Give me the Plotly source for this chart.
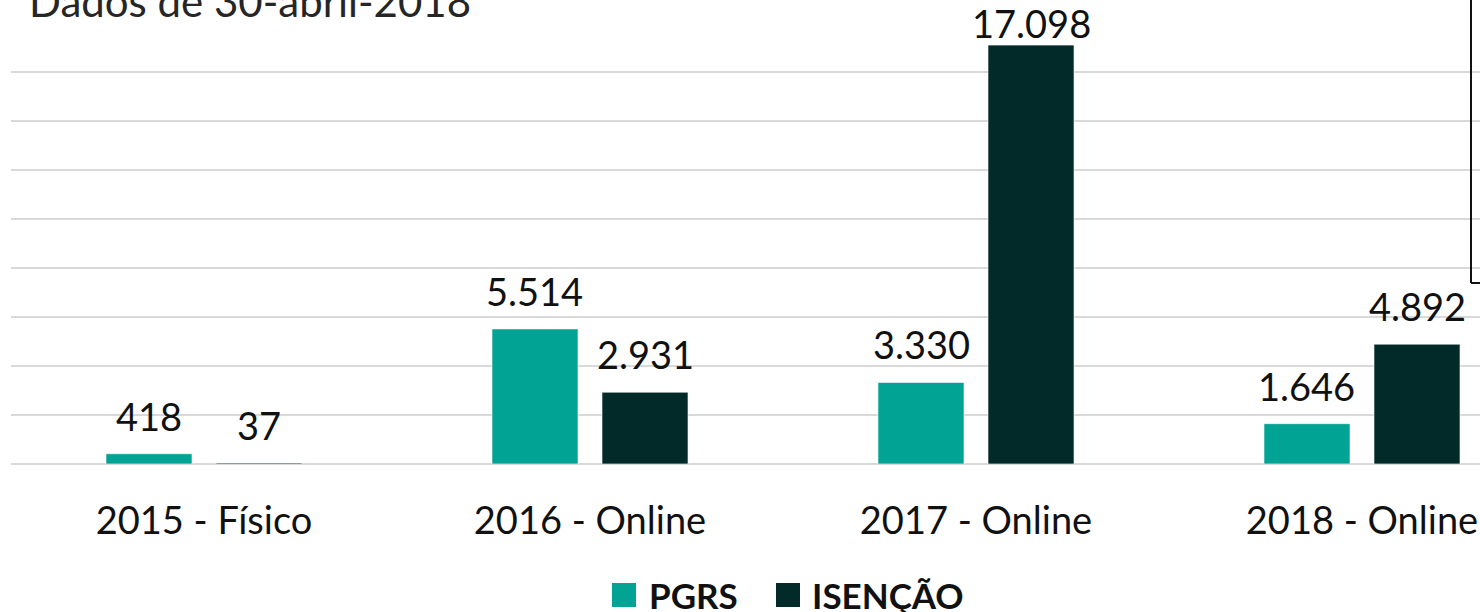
import plotly.graph_objects as go

# Registos por ano e canal de submissão
categorias = ["2015 - Físico", "2016 - Online", "2017 - Online", "2018 - Online"]
pgrs = [418, 5514, 3330, 1646]
isencao = [37, 2931, 17098, 4892]
series_nomes = ["PGRS", "ISENÇÃO"]
cores = ["#00A394", "#022A28"]

W, H = 1480, 612
ML, MR, MT, MB = 11, 0, 23, 148
PW, PH = W - ML - MR, H - MT - MB
YMAX, YSTEP = 18000, 2000
CAT_PX = 386
BARGAP, GROUPGAP = 0.43, 0.218
FONT = "Lato, 'Open Sans', sans-serif"


def px_x(px):
    return (px - ML) / PW


def px_y(py):
    return (H - MB - py) / PH


def fmt(v):
    return f"{v:,}".replace(",", ".")


fig = go.Figure()
for nome, vals, cor in zip(series_nomes, [pgrs, isencao], cores):
    fig.add_trace(go.Bar(
        x=list(range(len(categorias))), y=vals, name=nome,
        marker=dict(color=cor, line=dict(color="rgba(255,255,255,0.6)", width=1)),
        showlegend=False, hoverinfo="skip",
    ))

# Rótulos de valor sobre as barras (limitados ao topo da área do gráfico)
ppu = PH / YMAX
gap_px = 22
top_limit = YMAX - 16 / ppu
nser = len(series_nomes)
slot = (1 - BARGAP) / nser
for s, vals in enumerate([pgrs, isencao]):
    offset = (s - (nser - 1) / 2) * slot
    for i, v in enumerate(vals):
        y_lab = min(v + gap_px / ppu, top_limit)
        fig.add_annotation(
            x=i + offset, y=y_lab, xref="x", yref="y", text=fmt(v),
            showarrow=False, yanchor="bottom", yshift=-9,
            font=dict(family=FONT, size=38, color="#111111"),
        )

# Título parcialmente visível no topo
fig.add_annotation(
    x=px_x(27), y=px_y(28), xref="paper", yref="paper", text="Dados de 30-abril-2018",
    showarrow=False, xanchor="left", yanchor="bottom",
    font=dict(family=FONT, size=42, color="#262626"),
)

# Legenda desenhada manualmente
leg_items = [(612, 647), (776, 810)]
for (sq_x, tx_x), nome, cor in zip(leg_items, series_nomes, cores):
    fig.add_shape(type="rect", xref="paper", yref="paper",
                  x0=px_x(sq_x), x1=px_x(sq_x + 24), y0=px_y(607), y1=px_y(583),
                  fillcolor=cor, line=dict(width=0))
    fig.add_annotation(x=px_x(tx_x), y=px_y(595), xref="paper", yref="paper",
                       text=f"<b>{nome}</b>", showarrow=False, xanchor="left", yanchor="middle",
                       font=dict(family=FONT, size=35, color="#111111"))

# Moldura de uma caixa vizinha, à direita
fig.add_shape(type="line", xref="paper", yref="paper",
              x0=px_x(1471), x1=px_x(1471), y0=px_y(283), y1=px_y(-5),
              line=dict(color="#111111", width=2))
fig.add_shape(type="line", xref="paper", yref="paper",
              x0=px_x(1471), x1=px_x(1485), y0=px_y(283), y1=px_y(283),
              line=dict(color="#111111", width=2))

fig.update_layout(
    width=W, height=H,
    margin=dict(l=ML, r=MR, t=MT, b=MB, pad=0),
    paper_bgcolor="white", plot_bgcolor="white",
    barmode="group", bargap=BARGAP, bargroupgap=GROUPGAP,
    showlegend=False,
    font=dict(family=FONT, color="#111111"),
)
fig.update_xaxes(
    tickmode="array", tickvals=list(range(len(categorias))), ticktext=categorias,
    range=[-0.5, -0.5 + PW / CAT_PX], showgrid=False, zeroline=False, showline=False,
    ticks="", ticklabelstandoff=31, tickfont=dict(family=FONT, size=38, color="#111111"),
)
fig.update_yaxes(
    range=[0, YMAX], dtick=YSTEP, showticklabels=False, showgrid=True,
    gridcolor="#D9D9D9", gridwidth=2, zeroline=True, zerolinecolor="#D9D9D9", zerolinewidth=2,
    showline=False,
)

fig.write_html("out.html")
